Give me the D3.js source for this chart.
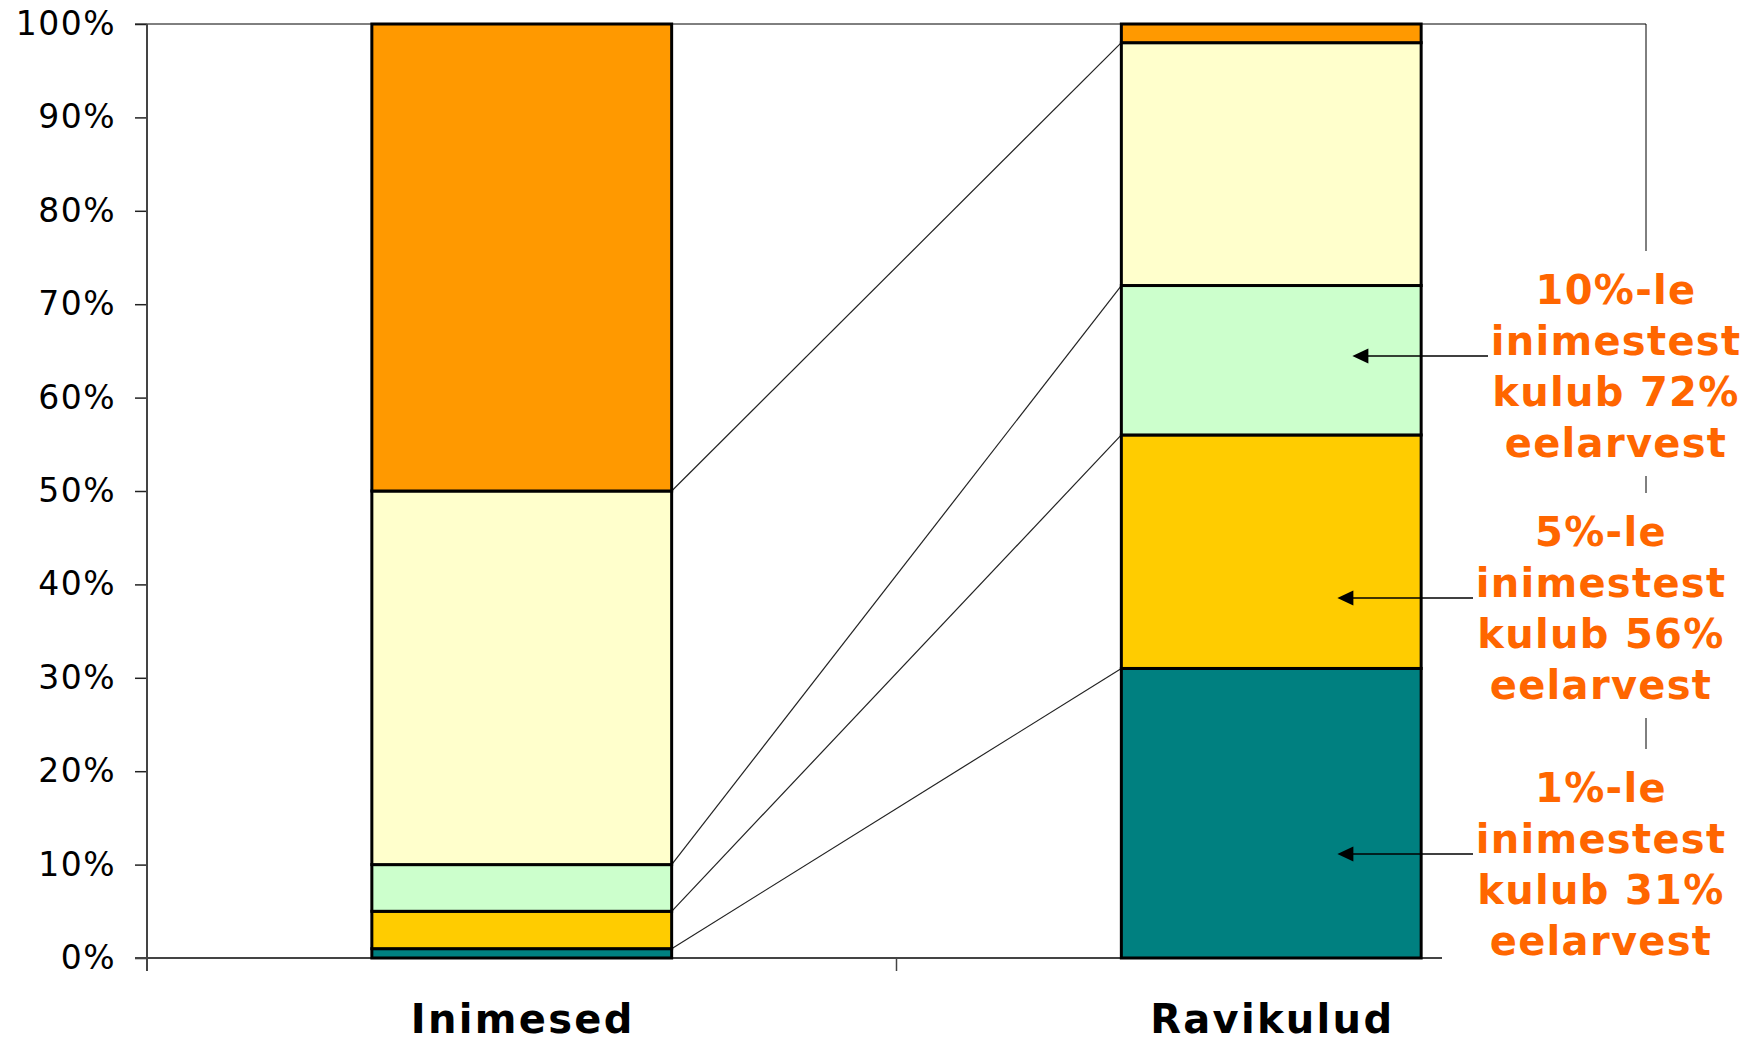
<!DOCTYPE html>
<html>
<head>
<meta charset="utf-8">
<script src="https://cdn.jsdelivr.net/npm/d3@7"></script>
<style>
  html, body { margin: 0; padding: 0; background: #fff; }
  svg { display: block; }
</style>
</head>
<body>
<svg id="chart" width="1751" height="1044"></svg>
<script>
// Share of people vs. share of treatment costs, stacked bottom to top.
const categories = ["Inimesed", "Ravikulud"];
const segmentKeys = ["top1", "next4", "next5", "next40", "rest50"];
const peopleShares = [1, 4, 5, 40, 50];
const costShares = [31, 25, 16, 26, 2];
const segmentColors = ["#008080", "#FFCC00", "#CCFFCC", "#FFFFCC", "#FF9900"];
const yTicks = [0, 10, 20, 30, 40, 50, 60, 70, 80, 90, 100];

// Callout texts (top to bottom)
const calloutLines = [
  ["10%-le", "inimestest", "kulub 72%", "eelarvest"],
  ["5%-le", "inimestest", "kulub 56%", "eelarvest"],
  ["1%-le", "inimestest", "kulub 31%", "eelarvest"]
];

const svg = d3.select("#chart");
const W = 1751, H = 1044;

const plot = { left: 147, right: 1646, top: 24, bottom: 958 };

const y = d3.scaleLinear().domain([0, 100]).range([plot.bottom, plot.top]);
const x = d3.scaleBand().domain(categories)
  .range([plot.left, plot.right])
  .paddingInner(0.6).paddingOuter(0.3);

// stacked table
const rows = categories.map((c, i) => {
  const vals = i === 0 ? peopleShares : costShares;
  const r = { category: c };
  segmentKeys.forEach((k, j) => r[k] = vals[j]);
  return r;
});
const stacked = d3.stack().keys(segmentKeys)(rows);

// plot frame (top and right edges)
svg.append("path")
  .attr("d", `M${plot.left - 12},${plot.top}H${plot.right}V${plot.bottom}`)
  .attr("fill", "none").attr("stroke", "#000").attr("stroke-width", 1);

// connector lines between the cumulative boundaries of the two bars
const cum = arr => { let s = 0; return arr.map(v => (s += v)); };
const cumPeople = cum(peopleShares), cumCost = cum(costShares);
const x0 = x(categories[0]) + x.bandwidth();
const x1 = x(categories[1]);
svg.append("g").selectAll("line")
  .data(d3.range(segmentKeys.length - 1))
  .join("line")
  .attr("x1", x0).attr("y1", i => y(cumPeople[i]))
  .attr("x2", x1).attr("y2", i => y(cumCost[i]))
  .attr("stroke", "#222").attr("stroke-width", 1.2);

// y axis
const yAxis = svg.append("g")
  .attr("transform", `translate(${plot.left},0)`)
  .call(d3.axisLeft(y).tickValues(yTicks).tickSize(12).tickSizeOuter(0)
    .tickFormat(d => d + "%"));
yAxis.select(".domain").remove();
yAxis.selectAll(".tick line").attr("stroke", "#222").attr("stroke-width", 1.5);
yAxis.selectAll(".tick text")
  .attr("x", -31)
  .attr("fill", "#000")
  .style("font-family", "'DejaVu Sans', Verdana, sans-serif")
  .style("font-size", "33px")
  .style("letter-spacing", "1.5px");
svg.append("line")
  .attr("x1", plot.left).attr("x2", plot.left)
  .attr("y1", plot.top).attr("y2", plot.bottom + 13)
  .attr("stroke", "#444").attr("stroke-width", 2);

// bottom axis line with category boundary ticks
svg.append("line")
  .attr("x1", plot.left - 12).attr("x2", plot.right)
  .attr("y1", plot.bottom).attr("y2", plot.bottom)
  .attr("stroke", "#444").attr("stroke-width", 2);
svg.append("g").selectAll("line")
  .data([1])
  .join("line")
  .attr("x1", i => plot.left + i * (plot.right - plot.left) / categories.length)
  .attr("x2", i => plot.left + i * (plot.right - plot.left) / categories.length)
  .attr("y1", plot.bottom).attr("y2", plot.bottom + 13)
  .attr("stroke", "#444").attr("stroke-width", 1.5);

// bars
svg.append("g").selectAll("g")
  .data(stacked)
  .join("g")
  .attr("fill", (d, i) => segmentColors[i])
  .selectAll("rect")
  .data(d => d)
  .join("rect")
  .attr("x", d => x(d.data.category))
  .attr("width", x.bandwidth())
  .attr("y", d => y(d[1]))
  .attr("height", d => y(d[0]) - y(d[1]))
  .attr("stroke", "#000").attr("stroke-width", 3);

// category labels
svg.append("g").selectAll("text")
  .data(categories)
  .join("text")
  .attr("x", d => x(d) + x.bandwidth() / 2 + 1)
  .attr("y", 1033)
  .attr("text-anchor", "middle")
  .style("font-family", "'DejaVu Sans', Verdana, sans-serif")
  .style("font-weight", "bold")
  .style("font-size", "40px")
  .style("letter-spacing", "2.3px")
  .attr("fill", "#000")
  .text(d => d);

// callouts: white text boxes with arrows pointing into the cost bar
const calloutBoxes = [
  { left: 1488, top: 251, bottom: 476, cx: 1615, arrowFrom: 1488, tipInset: 231 },
  { left: 1473, top: 493, bottom: 718, cx: 1600, arrowFrom: 1473, tipInset: 216 },
  { left: 1442, top: 749, bottom: 1000, cx: 1600, arrowFrom: 1473, tipInset: 216 }
];
const callouts = svg.append("g").selectAll("g")
  .data(calloutLines)
  .join("g");
callouts.append("rect")
  .attr("x", (d, i) => calloutBoxes[i].left)
  .attr("y", (d, i) => calloutBoxes[i].top)
  .attr("width", (d, i) => W - calloutBoxes[i].left)
  .attr("height", (d, i) => calloutBoxes[i].bottom - calloutBoxes[i].top)
  .attr("fill", "#fff");
callouts.each(function (lines, i) {
  const b = calloutBoxes[i];
  const g = d3.select(this);
  g.selectAll("text")
    .data(lines)
    .join("text")
    .attr("x", b.cx + 1)
    .attr("y", (d, j) => b.top + 53 + j * 51)
    .attr("text-anchor", "middle")
    .style("font-family", "'DejaVu Sans', Verdana, sans-serif")
    .style("font-weight", "bold")
    .style("font-size", "40px")
    .style("letter-spacing", "1.3px")
    .attr("fill", "#FF6600")
    .text(d => d);
  const ay = b.top + 105;
  const tip = x1 + b.tipInset;
  g.append("line")
    .attr("x1", b.arrowFrom).attr("x2", tip + 14)
    .attr("y1", ay).attr("y2", ay)
    .attr("stroke", "#000").attr("stroke-width", 1.5);
  g.append("path")
    .attr("d", `M${tip},${ay}L${tip + 16},${ay - 7.5}L${tip + 16},${ay + 7.5}Z`)
    .attr("fill", "#000");
});
</script>
</body>
</html>
